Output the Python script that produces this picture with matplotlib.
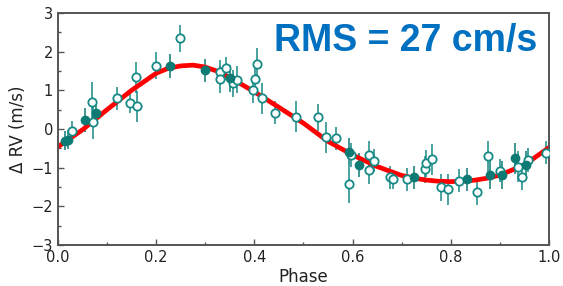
import matplotlib
matplotlib.use("Agg")
import matplotlib.pyplot as plt
from matplotlib.ticker import MultipleLocator

# open symbols: phase, delta RV (m/s), error
open_phase = [0.028, 0.069, 0.071, 0.120, 0.147, 0.160, 0.158, 0.200, 0.248,
              0.330, 0.330, 0.342, 0.357, 0.364, 0.406, 0.401, 0.398, 0.415,
              0.442, 0.485, 0.530, 0.546, 0.566, 0.596, 0.593, 0.634, 0.644,
              0.633, 0.676, 0.683, 0.710, 0.747, 0.750, 0.761, 0.781, 0.795,
              0.817, 0.854, 0.876, 0.901, 0.937, 0.946, 0.958, 0.994]
open_rv = [-0.05, 0.71, 0.19, 0.79, 0.66, 0.59, 1.34, 1.63, 2.34,
           1.48, 1.28, 1.57, 1.18, 1.27, 1.68, 1.28, 1.01, 0.79,
           0.42, 0.32, 0.30, -0.21, -0.24, -0.67, -1.42, -0.67, -0.82,
           -1.06, -1.25, -1.30, -1.30, -1.04, -0.89, -0.78, -1.51, -1.56,
           -1.34, -1.62, -0.70, -1.08, -0.97, -1.23, -0.80, -0.61]
open_err = [0.25, 0.50, 0.45, 0.30, 0.25, 0.40, 0.40, 0.35, 0.35,
            0.30, 0.35, 0.30, 0.35, 0.35, 0.40, 0.35, 0.35, 0.40,
            0.30, 0.40, 0.35, 0.40, 0.30, 0.30, 0.50, 0.35, 0.30,
            0.35, 0.30, 0.25, 0.30, 0.35, 0.35, 0.40, 0.35, 0.40,
            0.30, 0.35, 0.40, 0.30, 0.40, 0.35, 0.30, 0.30]

# filled symbols
fill_phase = [0.015, 0.020, 0.056, 0.077, 0.228, 0.300, 0.350, 0.593,
              0.614, 0.725, 0.834, 0.880, 0.904, 0.931, 0.953]
fill_rv = [-0.30, -0.28, 0.23, 0.41, 1.63, 1.52, 1.31, -0.59,
           -0.93, -1.25, -1.30, -1.19, -1.19, -0.76, -0.93]
fill_err = [0.25, 0.25, 0.30, 0.30, 0.30, 0.30, 0.35, 0.35,
            0.30, 0.30, 0.30, 0.35, 0.35, 0.40, 0.35]

# orbit fit curve
curve_phase = [0.000, 0.050, 0.100, 0.150, 0.200, 0.225, 0.250, 0.275, 0.300,
               0.325, 0.350, 0.400, 0.450, 0.500, 0.550, 0.600, 0.650, 0.700,
               0.725, 0.750, 0.775, 0.800, 0.825, 0.850, 0.875, 0.900, 0.950, 1.000]
curve_rv = [-0.46, -0.02, 0.50, 1.00, 1.44, 1.57, 1.63, 1.65, 1.60,
            1.49, 1.33, 0.96, 0.56, 0.15, -0.32, -0.67, -0.97, -1.20,
            -1.27, -1.32, -1.35, -1.36, -1.35, -1.32, -1.27, -1.19, -0.93, -0.48]

TEAL = "#178a86"
TEAL_DARK = "#0d7a74"
SPINE = "#555555"

fig = plt.figure(figsize=(5.63, 2.86), dpi=100)
ax = fig.add_axes([0.103, 0.143, 0.872, 0.812])

ax.errorbar(open_phase, open_rv, yerr=open_err, fmt="none", ecolor=TEAL,
            elinewidth=1.1, capsize=0, zorder=1)
ax.errorbar(fill_phase, fill_rv, yerr=fill_err, fmt="none", ecolor=TEAL_DARK,
            elinewidth=1.1, capsize=0, zorder=1)

ax.plot(curve_phase, curve_rv, color="#ff0000", linewidth=3.4,
        solid_capstyle="round", solid_joinstyle="round", zorder=2)

ax.plot(open_phase, open_rv, "o", ms=6, mfc="white", mec=TEAL, mew=1.3, zorder=3)
ax.plot(fill_phase, fill_rv, "o", ms=6, mfc=TEAL_DARK, mec=TEAL_DARK, mew=1.0, zorder=3)

ax.set_xlim(0, 1)
ax.set_ylim(-3, 3)
ax.xaxis.set_major_locator(MultipleLocator(0.2))
ax.xaxis.set_minor_locator(MultipleLocator(0.1))
ax.yaxis.set_major_locator(MultipleLocator(1))
ax.yaxis.set_minor_locator(MultipleLocator(0.5))
ax.tick_params(which="both", direction="in", color=SPINE, labelsize=10.5,
               labelcolor="#222222")
ax.tick_params(which="major", length=4, width=1)
ax.tick_params(which="minor", length=2.5, width=1)

for s in ax.spines.values():
    s.set_color(SPINE)
    s.set_linewidth(1.4)

ax.set_xlabel("Phase", fontsize=12, color="#222222", labelpad=2)
ax.set_ylabel("Δ RV (m/s)", fontsize=12, color="#222222", labelpad=3)

fig.text(0.487, 0.855, "RMS = 27 cm/s", fontsize=27, fontweight="bold",
         color="#0070c0", family=["Liberation Sans", "DejaVu Sans"],
         ha="left", va="center")

fig.savefig("out.png", dpi=100)
